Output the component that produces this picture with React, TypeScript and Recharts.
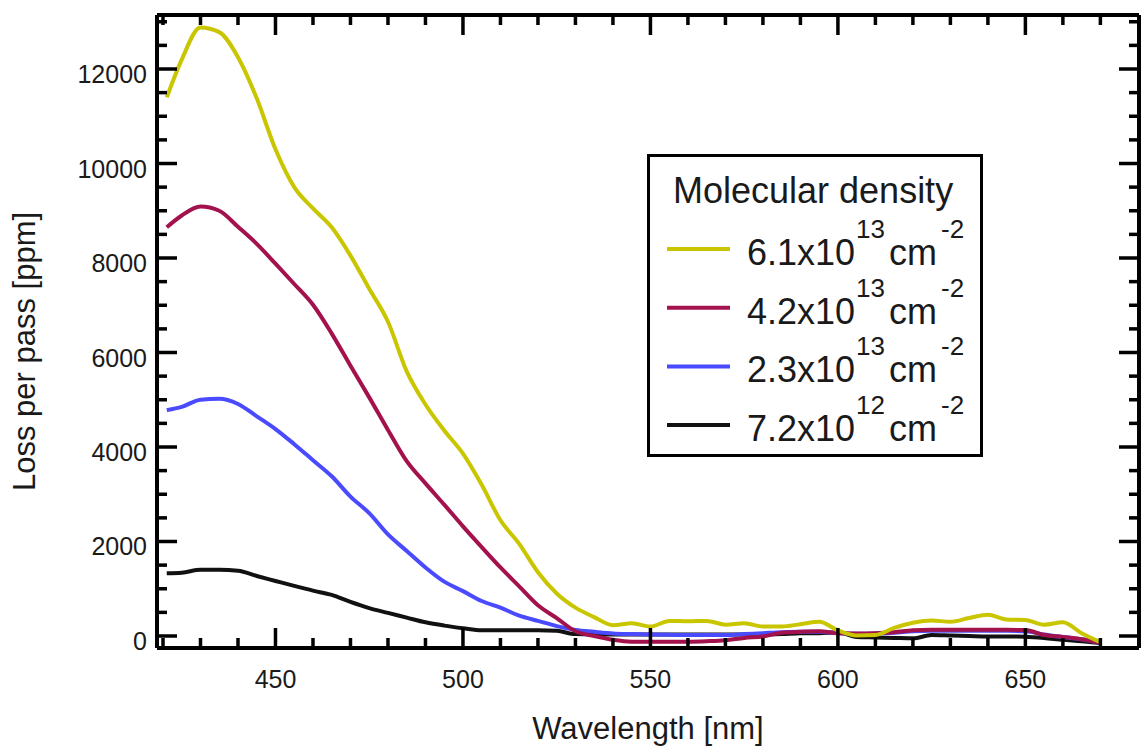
import { LineChart, Line, XAxis, YAxis, Legend, ReferenceLine, Label } from 'recharts';

const wavelength = [
  421, 425, 430, 435, 440, 445, 450, 455, 460, 465, 470, 475, 480, 485, 490, 495, 500, 505, 510, 515,
  520, 525, 530, 535, 540, 545, 550, 555, 560, 565, 570, 575, 580, 585, 590, 595, 600, 605, 610, 615,
  620, 625, 630, 635, 640, 645, 650, 655, 660, 665, 670,
];

const density61 = [
  11400, 12200, 12880, 12780, 12250, 11380, 10300, 9500, 9050, 8650, 8050, 7350, 6650, 5600, 4900, 4350, 3860, 3200, 2450, 1950,
  1350, 900, 600, 400, 230, 270, 200, 320, 310, 320, 240, 270, 200, 200, 250, 300, 120, 10, 20, 170,
  280, 330, 300, 380, 450, 350, 340, 240, 290, 60, -130,
];

const density42 = [
  8650, 8900, 9090, 9000, 8660, 8300, 7880, 7450, 7010, 6400, 5720, 5050, 4360, 3700, 3230, 2780, 2320, 1880, 1450, 1050,
  650, 380, 100, 0, -80, -120, -120, -120, -120, -110, -90, -40, -10, 70, 90, 100, 60, 55, 60, 80,
  120, 130, 130, 130, 130, 130, 125, 20, -20, -70, -150,
];

const density23 = [
  4780, 4850, 5000, 5020, 4910, 4650, 4380, 4060, 3720, 3380, 2950, 2600, 2150, 1800, 1450, 1150, 950, 740, 600, 430,
  320, 210, 130, 90, 55, 40, 30, 25, 20, 20, 20, 40, 60, 80, 90, 90, 60, 50, 55, 70,
  100, 110, 110, 110, 110, 110, 100, 30, -20, -70, -150,
];

const density72 = [
  1330, 1340, 1400, 1400, 1380, 1270, 1165, 1060, 960, 870, 720, 590, 490, 390, 290, 220, 165, 120, 120, 120,
  120, 110, 40, 35, 30, 30, 30, 30, 30, 30, 30, 30, 30, 40, 60, 60, 80, -20, -30, -40,
  -50, 20, 10, 0, -10, -10, -15, -40, -80, -110, -150,
];

const xTicks = [420, 430, 440, 450, 460, 470, 480, 490, 500, 510, 520, 530, 540, 550, 560, 570, 580, 590, 600, 610, 620, 630, 640, 650, 660, 670];
const xLabels = [450, 500, 550, 600, 650];
const yTicks = [0, 500, 1000, 1500, 2000, 2500, 3000, 3500, 4000, 4500, 5000, 5500, 6000, 6500, 7000, 7500, 8000, 8500, 9000, 9500, 10000, 10500, 11000, 11500, 12000, 12500, 13000];
const yLabels = [0, 2000, 4000, 6000, 8000, 10000, 12000];

const series = [
  { key: 'd61', mant: '6.1x10', exp: '13', color: '#c9c600' },
  { key: 'd42', mant: '4.2x10', exp: '13', color: '#a3124c' },
  { key: 'd23', mant: '2.3x10', exp: '13', color: '#4a4aff' },
  { key: 'd72', mant: '7.2x10', exp: '12', color: '#111111' },
];

const data = wavelength.map((w, i) => ({
  w,
  d61: density61[i],
  d42: density42[i],
  d23: density23[i],
  d72: density72[i],
}));

const W = 1142;
const H = 750;
const margin = { top: 15, right: 3, left: 0, bottom: 0 };
const FONT = '"Liberation Sans", Arial, Helvetica, sans-serif';
const TXT = '#1a1a1a';

function XTick({ x, y, payload }: any) {
  const major = xLabels.includes(payload.value);
  const len = major ? 20 : 10;
  const top = margin.top;
  return (
    <g>
      <line x1={x} x2={x} y1={y} y2={y - len} stroke="#000" strokeWidth={3.5} />
      <line x1={x} x2={x} y1={top} y2={top + len} stroke="#000" strokeWidth={3.5} />
      {major && (
        <text x={x} y={y + 40} textAnchor="middle" fontSize={25} fill={TXT} fontFamily={FONT}>
          {payload.value}
        </text>
      )}
    </g>
  );
}

function YTick({ x, y, payload }: any) {
  const major = yLabels.includes(payload.value);
  const len = major ? 20 : 10;
  const right = W - margin.right;
  return (
    <g>
      <line x1={x} x2={x + len} y1={y} y2={y} stroke="#000" strokeWidth={3.5} />
      <line x1={right} x2={right - len} y1={y} y2={y} stroke="#000" strokeWidth={3.5} />
      {major && (
        <text x={x - 10} y={y + 14} textAnchor="end" fontSize={25} fill={TXT} fontFamily={FONT}>
          {payload.value}
        </text>
      )}
    </g>
  );
}

function LegendBox() {
  return (
    <svg width={336} height={303} style={{ display: 'block' }}>
      <rect x={1.5} y={1.5} width={333} height={300} fill="#fff" stroke="#000" strokeWidth={3} />
      <text x={26} y={49} fontSize={36} fill={TXT} fontFamily={FONT}>
        Molecular density
      </text>
      {series.map((s, i) => (
        <g key={s.key}>
          <line x1={20} x2={83} y1={95 + i * 58.7} y2={95 + i * 58.7} stroke={s.color} strokeWidth={4} />
          <text x={100} y={111 + i * 58.7} fontSize={36} fill={TXT} fontFamily={FONT}>
            {s.mant}
            <tspan fontSize={26} dy={-27} dx={1}>{s.exp}</tspan>
            <tspan fontSize={36} dy={27} dx={4}>cm</tspan>
            <tspan fontSize={26} dy={-27} dx={4}>-2</tspan>
          </text>
        </g>
      ))}
    </svg>
  );
}

export default function App() {
  return (
    <div style={{ width: W, height: H, background: '#fff' }}>
      <style>{'body{margin:0}'}</style>
      <LineChart width={W} height={H} data={data} margin={margin} style={{ fontFamily: FONT }}>
        <XAxis
          dataKey="w"
          type="number"
          domain={[418.4, 680.3]}
          ticks={xTicks}
          interval={0}
          height={102}
          tickSize={0}
          tickMargin={0}
          tickLine={false}
          axisLine={{ stroke: '#000', strokeWidth: 4 }}
          tick={<XTick />}
          allowDataOverflow
        >
          <Label
            content={({ viewBox }: any) => (
              <text
                x={viewBox.x + viewBox.width / 2}
                y={viewBox.y + 91}
                textAnchor="middle"
                fontSize={31}
                fill={TXT}
                fontFamily={FONT}
              >
                Wavelength [nm]
              </text>
            )}
          />
        </XAxis>
        <YAxis
          type="number"
          domain={[-254, 13143]}
          ticks={yTicks}
          interval={0}
          width={157}
          tickSize={0}
          tickMargin={0}
          tickLine={false}
          axisLine={{ stroke: '#000', strokeWidth: 4 }}
          tick={<YTick />}
          allowDataOverflow
        >
          <Label
            content={({ viewBox }: any) => {
              const cx = 35;
              const cy = viewBox.y + viewBox.height / 2 + 20;
              return (
                <text
                  x={cx}
                  y={cy}
                  transform={`rotate(-90, ${cx}, ${cy})`}
                  textAnchor="middle"
                  fontSize={31}
                  fill={TXT}
                  fontFamily={FONT}
                >
                  Loss per pass [ppm]
                </text>
              );
            }}
          />
        </YAxis>
        <ReferenceLine y={13143} stroke="#000" strokeWidth={4} ifOverflow="visible" />
        <ReferenceLine x={680.3} stroke="#000" strokeWidth={4} ifOverflow="visible" />
        {[...series].reverse().map((s) => (
          <Line
            key={s.key}
            dataKey={s.key}
            type="monotone"
            stroke={s.color}
            strokeWidth={4}
            dot={false}
            activeDot={false}
            isAnimationActive={false}
          />
        ))}
        <Legend
          layout="horizontal"
          verticalAlign="middle"
          align="center"
          wrapperStyle={{ left: 647, top: 154, width: 336, height: 303 }}
          content={() => <LegendBox />}
        />
      </LineChart>
    </div>
  );
}
